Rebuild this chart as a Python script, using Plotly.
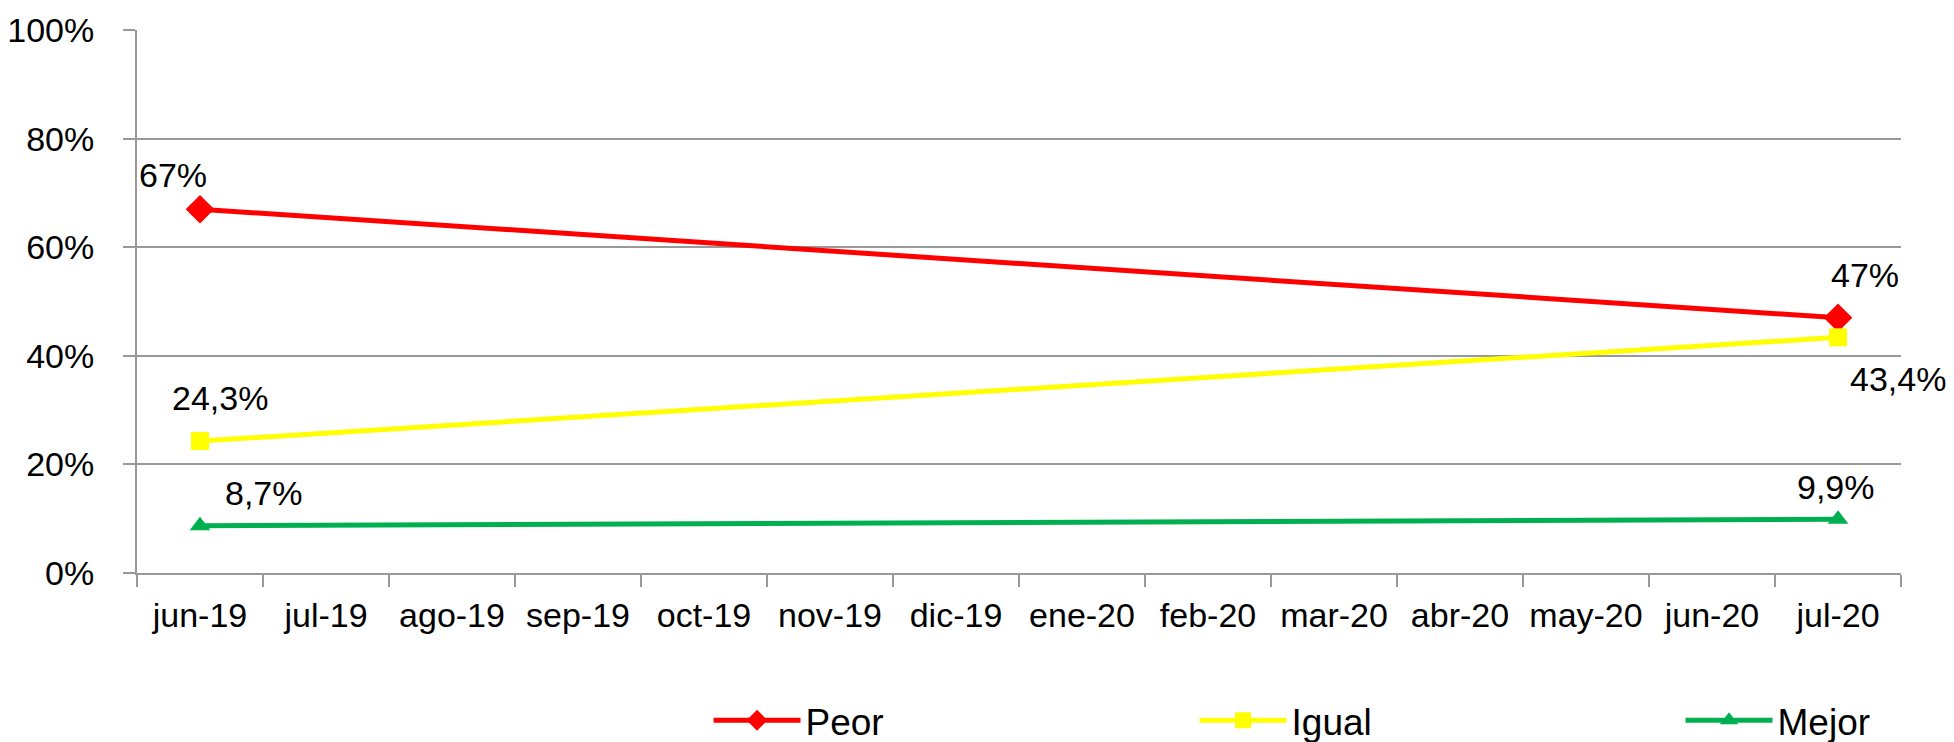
import plotly.graph_objects as go

months = ["jun-19", "jul-19", "ago-19", "sep-19", "oct-19", "nov-19", "dic-19",
          "ene-20", "feb-20", "mar-20", "abr-20", "may-20", "jun-20", "jul-20"]
points = ["jun-19", "jul-20"]
peor = [67.0, 47.0]
igual = [24.3, 43.4]
mejor = [8.7, 9.9]
peor_lbl = ["67%", "47%"]
igual_lbl = ["24,3%", "43,4%"]
mejor_lbl = ["8,7%", "9,9%"]
ytick_vals = [0, 20, 40, 60, 80, 100]
ytick_text = ["0%", "20%", "40%", "60%", "80%", "100%"]

FONT = "Liberation Sans"
fig = go.Figure()
series = [
    ("Peor", peor, peor_lbl, "#FF0000", "diamond", 22, [(-27, 34), (27, 43)]),
    ("Igual", igual, igual_lbl, "#FFFF00", "square", 18, [(20, 43), (60, -42)]),
    ("Mejor", mejor, mejor_lbl, "#00B050", "triangle-up", 18, [(64, 33), (-2, 32)]),
]
for name, vals, lbls, col, sym, sz, offs in series:
    fig.add_trace(go.Scatter(
        x=points, y=vals, name=name, mode="lines+markers",
        line=dict(color=col, width=5),
        marker=dict(symbol=sym, size=sz, color=col),
    ))
    for xv, yv, t, (dx, dy) in zip(points, vals, lbls, offs):
        fig.add_annotation(x=xv, y=yv, text=t, showarrow=False,
                           xshift=dx, yshift=dy,
                           font=dict(family=FONT, size=34, color="#000"))

fig.update_layout(
    width=1946, height=734,
    margin=dict(l=129, r=53, t=22, b=169, autoexpand=False),
    plot_bgcolor="white", paper_bgcolor="white",
    showlegend=True,
    legend=dict(orientation="h", x=0.324, xanchor="left", y=-0.272, yanchor="middle",
                itemwidth=87,
                entrywidth=384, entrywidthmode="pixels",
                font=dict(family=FONT, size=37, color="#000")),
)
fig.update_xaxes(
    type="category", categoryorder="array", categoryarray=months,
    tickmode="array", tickvals=months, ticktext=months,
    range=[-0.5, len(months) - 0.5], automargin=False,
    tickson="boundaries", ticks="outside", ticklen=12, tickcolor="#999", tickwidth=2,
    showline=True, linecolor="#999", linewidth=2, showgrid=False,
    tickfont=dict(family=FONT, size=34, color="#000"),
    ticklabelstandoff=11,
)
fig.update_yaxes(
    range=[0, 100], tickvals=ytick_vals, ticktext=ytick_text, automargin=False,
    ticks="outside", ticklen=12, tickcolor="#999", tickwidth=2,
    showline=True, linecolor="#999", linewidth=2,
    showgrid=True, gridcolor="#999", gridwidth=2, zeroline=False,
    tickfont=dict(family=FONT, size=34, color="#000"),
    ticklabelstandoff=22,
)
fig.write_html("out.html")
